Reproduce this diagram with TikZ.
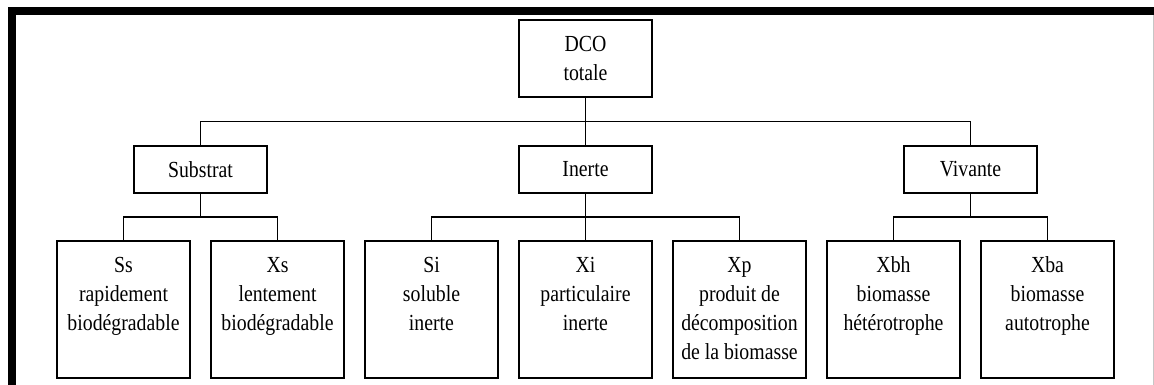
\documentclass[tikz,border=0pt]{standalone}
\usepackage{fontspec}
\setmainfont{Liberation Serif}[FakeStretch=0.86]
\usetikzlibrary{calc}

\newcommand{\leaftext}[1]{\parbox[t][115pt][t]{128pt}{\centering\strut #1}}

\begin{document}
\begin{tikzpicture}[x=1pt,y=1pt,node distance=154pt,
  font=\fontsize{23}{29}\selectfont,
  box/.style={draw,line width=2pt,minimum width=133pt,align=center},
  group/.style={box,minimum height=47pt},
  leaf/.style={box,inner xsep=0pt,inner ysep=11pt},
  link/.style={line width=1.8pt}]

\useasboundingbox (0,0) rectangle (1154,-385);

% frame
\draw[line width=8pt] (12,-385) -- (12,-11) -- (1154,-11);
\draw[gray!45,line width=1pt] (1153,-15) -- (1153,-385);

% tree
\node[box,minimum height=77pt] (dco) at (585.5,-58.5) {DCO\\totale};
\node[group] (inerte)   at (585.5,-169.5) {Inerte};
\node[group] (substrat) [left of=inerte,node distance=385pt]  {Substrat};
\node[group] (vivante)  [right of=inerte,node distance=385pt] {Vivante};

\node[leaf] (xi)  at (585.5,-309.5) {\leaftext{Xi\\particulaire\\inerte}};
\node[leaf] (si)  [left of=xi]  {\leaftext{Si\\soluble\\inerte}};
\node[leaf] (xs)  [left of=si]  {\leaftext{Xs\\lentement\\biodégradable}};
\node[leaf] (ss)  [left of=xs]  {\leaftext{Ss\\rapidement\\biodégradable}};
\node[leaf] (xp)  [right of=xi] {\leaftext{Xp\\produit de\\décomposition\\de la biomasse}};
\node[leaf] (xbh) [right of=xp] {\leaftext{Xbh\\biomasse\\hétérotrophe}};
\node[leaf] (xba) [right of=xbh] {\leaftext{Xba\\biomasse\\autotrophe}};

\coordinate (bus)  at ($(dco.south)!.5!(inerte.north)$);
\coordinate (sbus) at ($(substrat.south)!.5!(substrat.south |- ss.north)$);
\coordinate (ibus) at ($(inerte.south)!.5!(inerte.south |- xi.north)$);
\coordinate (vbus) at ($(vivante.south)!.5!(vivante.south |- xbh.north)$);

\draw[link] (dco) -- (inerte);
\draw[link] (substrat.north) |- (bus) -| (vivante.north);

\draw[link] (substrat) -- (sbus);
\draw[link] (ss.north) |- (sbus) -| (xs.north);

\draw[link] (inerte) -- (xi);
\draw[link] (si.north) |- (ibus) -| (xp.north);

\draw[link] (vivante) -- (vbus);
\draw[link] (xbh.north) |- (vbus) -| (xba.north);
\end{tikzpicture}
\end{document}
